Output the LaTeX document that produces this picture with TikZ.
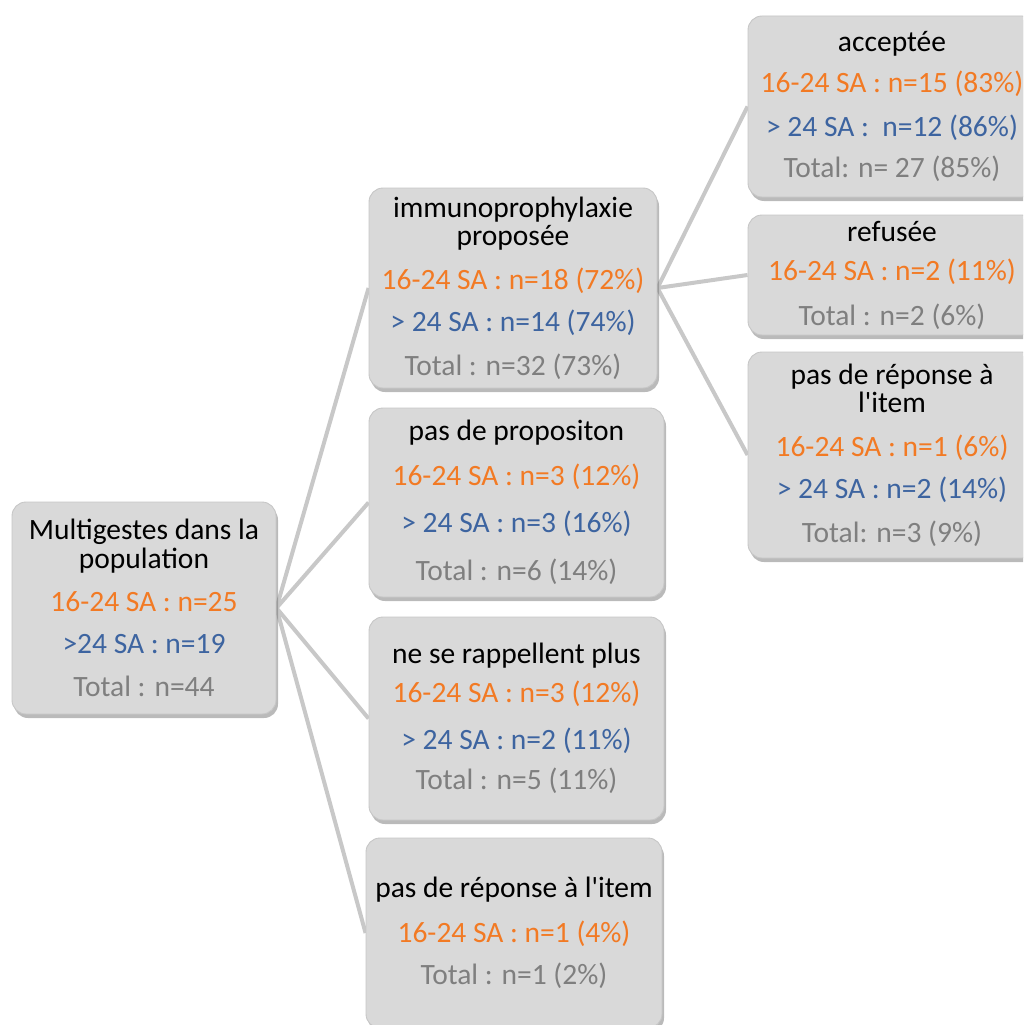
\documentclass[tikz,border=0pt]{standalone}
\usepackage{fontspec}
\setmainfont{Carlito}
\usetikzlibrary{shadows}
\definecolor{orng}{HTML}{F27A24}
\definecolor{blu}{HTML}{3D64A0}
\definecolor{gry}{HTML}{7F7F7F}
\definecolor{conn}{HTML}{C8C8C8}
\definecolor{boxfill}{HTML}{D9D9D9}
\pgfdeclarelayer{background}
\pgfsetlayers{background,main}
\newcommand{\og}[1]{\textcolor{orng}{#1}}
\newcommand{\bl}[1]{\textcolor{blu}{#1}}
\newcommand{\gy}[1]{\textcolor{gry}{#1}}
\newcommand{\ap}{\textquotesingle}
\begin{document}
\begin{tikzpicture}[x=1pt,y=-1pt,
 box/.style={rounded corners=14pt, draw=gray!45, line width=0.9pt,
   fill=boxfill,
   drop shadow={shadow xshift=2pt, shadow yshift=-4pt, opacity=0.45, fill=black!60},
   align=center, inner sep=0pt, font=\fontsize{29.5}{28.5}\selectfont, text=black},
 link/.style={draw=conn, line width=4pt}]
\useasboundingbox (0,0) rectangle (1023,1025);
\clip (0,0) rectangle (1023,1025);
\node[box, minimum width=264pt, minimum height=212pt] (root) at (144,608)
 {Multigestes dans la\\population\\[15pt]\og{16-24 SA : n=25}\\[13pt]\bl{>24 SA : n=19}\\[15pt]\gy{Total : n=44}};
\node[box, minimum width=288pt, minimum height=200pt] (immu) at (513,288)
 {immunoprophylaxie\\proposée\\[15pt]\og{16-24 SA : n=18 (72\%)}\\[14pt]\bl{> 24 SA : n=14 (74\%)}\\[15pt]\gy{Total : n=32 (73\%)}};
\node[box, minimum width=295pt, minimum height=189pt] (prop) at (516.5,502.5)
 {pas de propositon\\[16pt]\og{16-24 SA : n=3 (12\%)}\\[19pt]\bl{> 24 SA : n=3 (16\%)}\\[19pt]\gy{Total : n=6 (14\%)}};
\node[box, minimum width=295pt, minimum height=203pt] (rapp) at (516.5,718.5)
 {ne se rappellent plus\\[11pt]\og{16-24 SA : n=3 (12\%)}\\[18pt]\bl{> 24 SA : n=2 (11\%)}\\[12pt]\gy{Total : n=5 (11\%)}};
\node[box, minimum width=296pt, minimum height=190pt] (nrep) at (514,933)
 {pas de réponse à l\ap item\\[16pt]\og{16-24 SA : n=1 (4\%)}\\[14pt]\gy{Total : n=1 (2\%)}};
\node[box, minimum width=288pt, minimum height=181pt] (acc) at (892,106.5)
 {acceptée\\[13pt]\og{16-24 SA : n=15 (83\%)}\\[15pt]\bl{> 24 SA :\ \ n=12 (86\%)}\\[13pt]\gy{Total: n= 27 (85\%)}};
\node[box, minimum width=288pt, minimum height=120pt] (ref) at (892,275)
 {refusée\\[11pt]\og{16-24 SA : n=2 (11\%)}\\[16pt]\gy{Total : n=2 (6\%)}};
\node[box, minimum width=288pt, minimum height=206pt] (rrep) at (892,455)
 {pas de réponse à\\l\ap item\\[15pt]\og{16-24 SA : n=1 (6\%)}\\[14pt]\bl{> 24 SA : n=2 (14\%)}\\[15pt]\gy{Total: n=3 (9\%)}};
\begin{pgfonlayer}{background}
\draw[link] (root.east) -- (immu.west);
\draw[link] (root.east) -- (prop.west);
\draw[link] (root.east) -- (rapp.west);
\draw[link] (root.east) -- (nrep.west);
\draw[link] (immu.east) -- (acc.west);
\draw[link] (immu.east) -- (ref.west);
\draw[link] (immu.east) -- (rrep.west);
\end{pgfonlayer}
\end{tikzpicture}
\end{document}
